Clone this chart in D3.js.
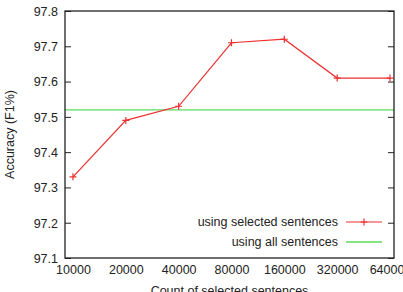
<!DOCTYPE html>
<html><head><meta charset="utf-8">
<script src="https://cdn.jsdelivr.net/npm/d3@7"></script>
<style>
html,body{margin:0;padding:0;background:#fff;}
svg{display:block;}
text{font-family:"Liberation Sans",Arial,sans-serif;fill:#222;}
</style></head>
<body>
<svg id="c" width="403" height="292"></svg>
<script>
const categories = ["10000","20000","40000","80000","160000","320000","640000"];
const selectedValues = [97.33, 97.49, 97.53, 97.71, 97.72, 97.61, 97.61];
const allValue = 97.52;
const yTicks = [97.1, 97.2, 97.3, 97.4, 97.5, 97.6, 97.7, 97.8];
const seriesNames = ["using selected sentences", "using all sentences"];

const svg = d3.select("#c");
const L = 65, R = 394, T = 11, B = 258;
const fs = "12.5px";

const x = d3.scaleLinear().domain([-0.151, 6.076]).range([L, R]);
const y = d3.scaleLinear().domain([97.1, 97.8]).range([B, T]);

// ticks left and right
const yAxisL = d3.axisLeft(y).tickValues(yTicks).tickSize(-6).tickPadding(7).tickFormat(d3.format(".1f"));
const gL = svg.append("g").attr("transform", `translate(${L},0)`).call(yAxisL);
gL.select(".domain").remove();
gL.selectAll("line").attr("stroke", "#222");
gL.selectAll("text").style("font-size", fs).attr("fill", "#222").attr("dy", "0.35em");

const yAxisR = d3.axisRight(y).tickValues(yTicks).tickSize(-6).tickFormat("");
const gR = svg.append("g").attr("transform", `translate(${R},0)`).call(yAxisR);
gR.select(".domain").remove();
gR.selectAll("line").attr("stroke", "#222");

// x tick labels
const xAxis = d3.axisBottom(x).tickValues(d3.range(categories.length)).tickSize(0).tickPadding(0).tickFormat(i => categories[i]);
const gX = svg.append("g").attr("transform", `translate(0,${B})`).call(xAxis);
gX.select(".domain").remove();
gX.selectAll("text").style("font-size", fs).attr("fill", "#222").attr("y", 16).attr("dy", 0);

// green line
svg.append("line").attr("x1", L).attr("x2", R).attr("y1", y(allValue)).attr("y2", y(allValue))
  .attr("stroke", "#5ddc5d").attr("stroke-width", 1.3);

// red line
const line = d3.line().x((d, i) => x(i)).y(d => y(d));
svg.append("path").datum(selectedValues).attr("d", line).attr("fill", "none")
  .attr("stroke", "#ec3030").attr("stroke-width", 1.2);
const pts = svg.append("g");
selectedValues.forEach((v, i) => {
  const cx = x(i), cy = y(v);
  pts.append("path").attr("d", `M${cx-3.5},${cy}H${cx+3.5}M${cx},${cy-3.5}V${cy+3.5}`)
    .attr("stroke", "#ec3030").attr("stroke-width", 1.2);
});

// frame
svg.append("rect").attr("x", L).attr("y", T).attr("width", R - L).attr("height", B - T)
  .attr("fill", "none").attr("stroke", "#222").attr("stroke-width", 1.3);

// legend
const legY = [222, 242];
const lx1 = 346, lx2 = 382;
svg.append("text").attr("x", 338).attr("y", legY[0]).attr("dy", "0.35em").attr("text-anchor", "end").style("font-size", fs).text(seriesNames[0]);
svg.append("line").attr("x1", lx1).attr("x2", lx2).attr("y1", legY[0]).attr("y2", legY[0]).attr("stroke", "#ec3030").attr("stroke-width", 1.2);
const mx = (lx1 + lx2) / 2;
svg.append("path").attr("d", `M${mx-3.5},${legY[0]}H${mx+3.5}M${mx},${legY[0]-3.5}V${legY[0]+3.5}`).attr("stroke", "#ec3030").attr("stroke-width", 1.2);
svg.append("text").attr("x", 338).attr("y", legY[1]).attr("dy", "0.35em").attr("text-anchor", "end").style("font-size", fs).text(seriesNames[1]);
svg.append("line").attr("x1", lx1).attr("x2", lx2).attr("y1", legY[1]).attr("y2", legY[1]).attr("stroke", "#5ddc5d").attr("stroke-width", 1.3);

// axis titles
svg.append("text").attr("transform", `translate(14,${(T + B) / 2}) rotate(-90)`).attr("text-anchor", "middle")
  .style("font-size", fs).text("Accuracy (F1%)");
svg.append("text").attr("x", (L + R) / 2).attr("y", 295).attr("text-anchor", "middle")
  .style("font-size", fs).text("Count of selected sentences");
</script>
</body></html>
